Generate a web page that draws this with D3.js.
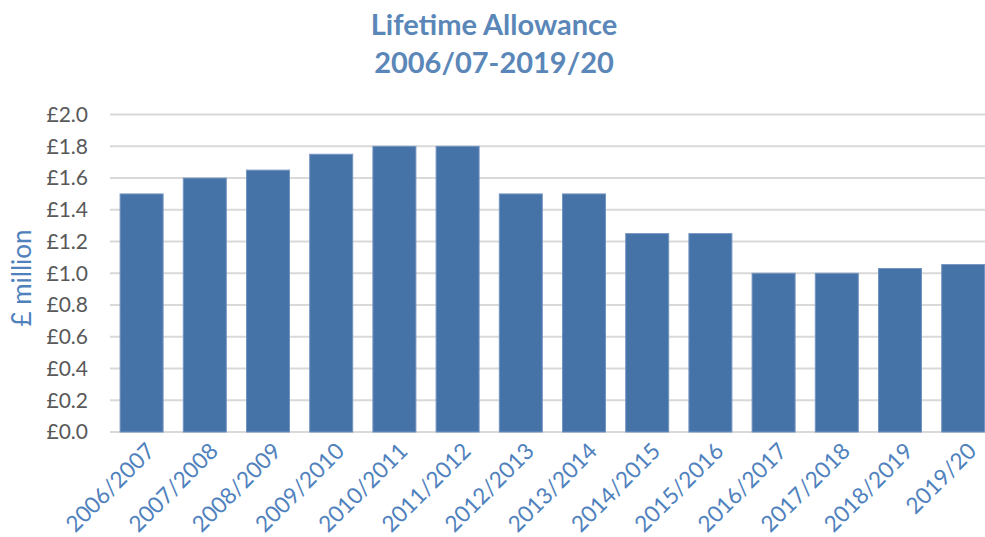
<!doctype html>
<html>
<head>
<meta charset="utf-8">
<script src="https://cdnjs.cloudflare.com/ajax/libs/d3/7.8.5/d3.min.js"></script>
<style>
  body { margin: 0; background: #fff; }
  svg { display: block; font-family: Lato, 'Open Sans', sans-serif; }
</style>
</head>
<body>
<div id="graph"></div>
<script>
const years = ['2006/2007', '2007/2008', '2008/2009', '2009/2010', '2010/2011', '2011/2012', '2012/2013',
  '2013/2014', '2014/2015', '2015/2016', '2016/2017', '2017/2018', '2018/2019', '2019/20']
const allowance = [1.5, 1.6, 1.65, 1.75, 1.8, 1.8, 1.5, 1.5, 1.25, 1.25, 1.0, 1.0, 1.03, 1.055]
const yTicks = [0, 0.2, 0.4, 0.6, 0.8, 1.0, 1.2, 1.4, 1.6, 1.8, 2.0]
const titleLines = ['Lifetime Allowance', '2006/07-2019/20']

const width = 985, height = 537
const plotLeft = 110, plotTop = 114.6, plotBottom = 432

const svg = d3.select('#graph').append('svg')
  .attr('width', width)
  .attr('height', height)

const x = d3.scaleBand()
  .domain(years)
  .range([plotLeft, plotLeft + 14 * 63.2])
  .paddingInner(0.32)
  .paddingOuter(0.16)

const y = d3.scaleLinear()
  .domain([0, 2])
  .range([plotBottom, plotTop])

// gridlines
svg.append('g')
  .selectAll('line')
  .data(yTicks)
  .join('line')
  .attr('x1', plotLeft)
  .attr('x2', width)
  .attr('y1', d => y(d))
  .attr('y2', d => y(d))
  .attr('stroke', '#d9d9d9')
  .attr('stroke-width', 2)

// y tick labels
svg.append('g')
  .selectAll('text')
  .data(yTicks)
  .join('text')
  .attr('x', 88)
  .attr('y', d => y(d))
  .attr('dy', '0.35em')
  .attr('text-anchor', 'end')
  .attr('fill', '#595959')
  .style('font-size', '21px')
  .text(d => '£' + d.toFixed(1))

// bars
svg.append('g')
  .selectAll('rect')
  .data(allowance)
  .join('rect')
  .attr('x', (d, i) => x(years[i]))
  .attr('y', d => y(d))
  .attr('width', x.bandwidth())
  .attr('height', d => y(0) - y(d))
  .attr('fill', '#4572a7')
  .attr('stroke', '#7393c0')
  .attr('stroke-width', 1)

// x labels
svg.append('g')
  .selectAll('text')
  .data(years)
  .join('text')
  .attr('transform', d => `translate(${x(d) + x.bandwidth() / 2 + 9},${plotBottom + 15}) rotate(-45)`)
  .attr('text-anchor', 'end')
  .attr('dy', '0.35em')
  .attr('fill', '#4f81bd')
  .style('font-size', '22.5px')
  .text(d => d)

// y axis title
svg.append('text')
  .attr('transform', `translate(31,278) rotate(-90)`)
  .attr('text-anchor', 'middle')
  .attr('fill', '#4f81bd')
  .style('font-size', '26px')
  .text('£ million')

// chart title
svg.append('g')
  .selectAll('text')
  .data(titleLines)
  .join('text')
  .attr('x', 494)
  .attr('y', (d, i) => 35 + i * 38)
  .attr('text-anchor', 'middle')
  .attr('fill', '#5a87b8')
  .style('font-size', '29px')
  .style('font-weight', 'bold')
  .text(d => d)
</script>
</body>
</html>
